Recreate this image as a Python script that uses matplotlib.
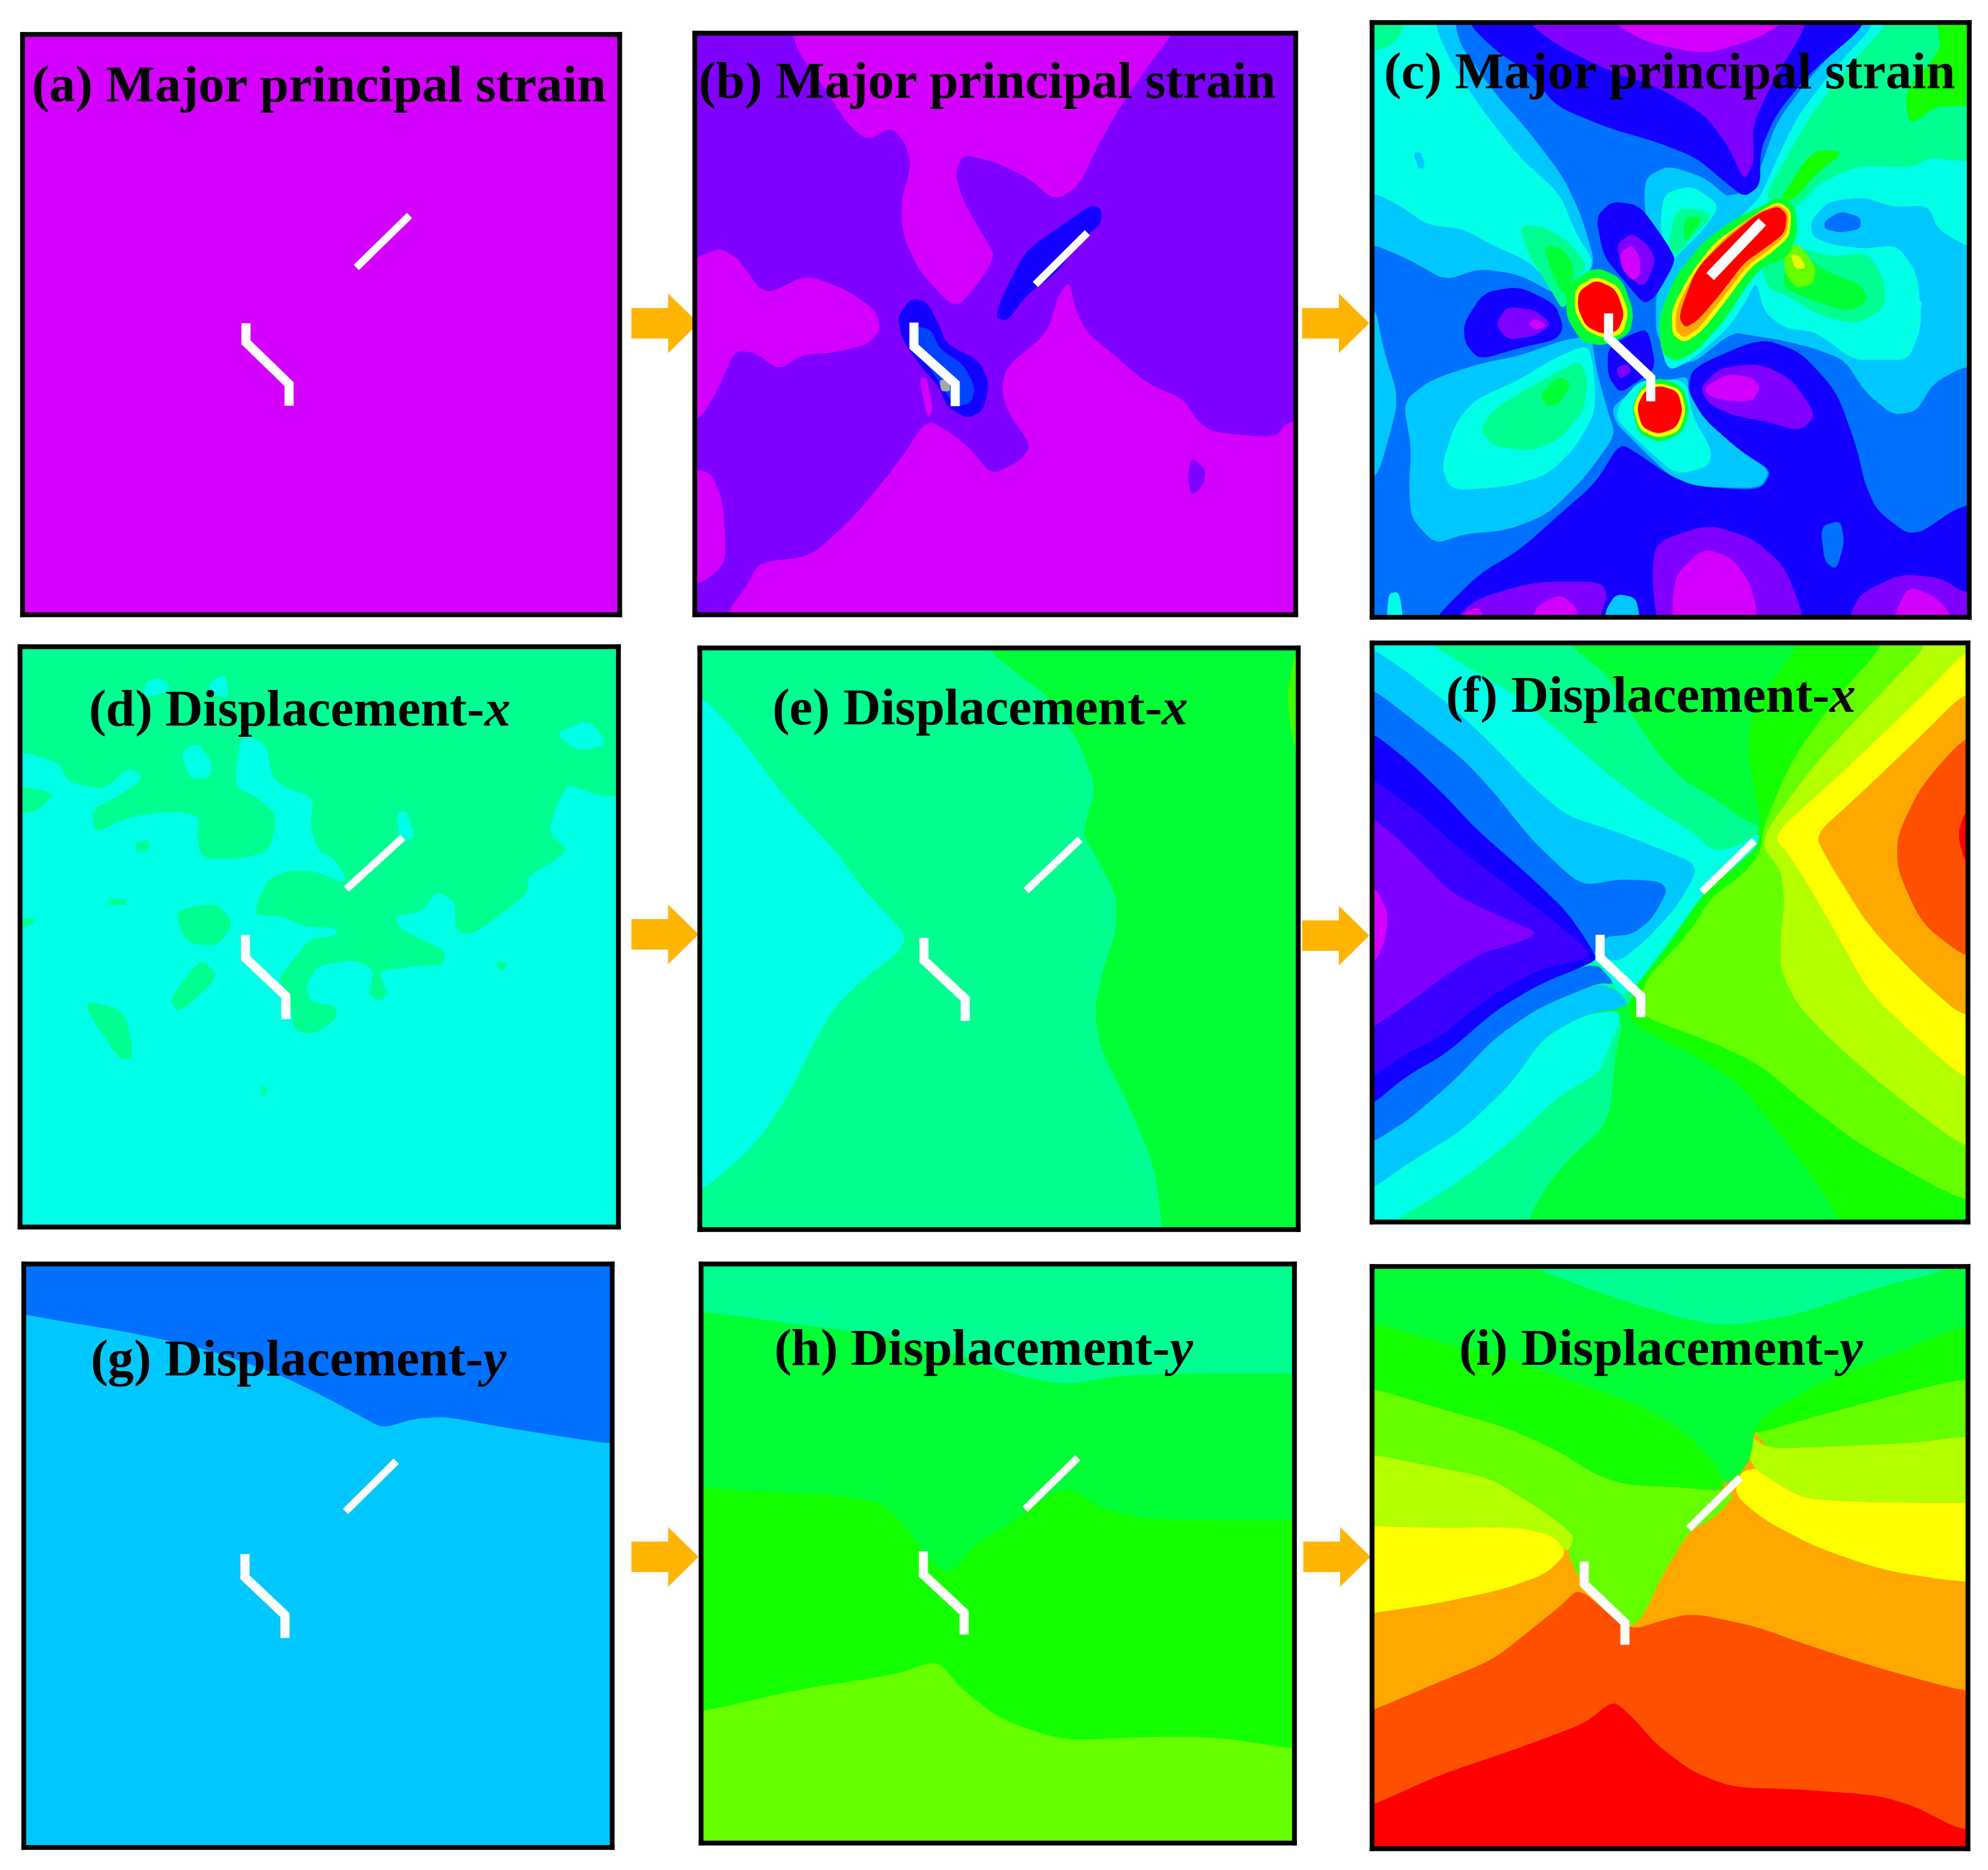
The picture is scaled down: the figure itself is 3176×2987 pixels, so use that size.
import numpy as np
import matplotlib
matplotlib.use("Agg")
import matplotlib.pyplot as plt

plt.rcParams["font.family"] = ["Liberation Serif", "DejaVu Serif"]
plt.rcParams["mathtext.fontset"] = "custom"
plt.rcParams["mathtext.bfit"] = "Liberation Serif:italic:bold"

mag = "#D400FF"
pur = "#8000FF"
ind = "#3C00FF"
blu = "#1400FF"
azu = "#0070FF"
sky = "#00C8FF"
cya = "#00FFE6"
spr = "#00FF90"
gr3 = "#00FF34"
gr1 = "#14FF00"
lim = "#66FF00"
ygr = "#B4FF00"
yel = "#FFFF00"
org = "#FFA800"
rog = "#FF5000"
red = "#FF0000"

# panel frames, read in the 1568 wide picture: left, right, top, bottom
frame_a = (18, 489, 27, 485)
frame_b = (548, 1022, 26, 485)
frame_c = (1082, 1553, 18, 487)
frame_d = (16, 488, 510, 968)
frame_e = (552, 1024, 511, 970)
frame_f = (1082, 1552, 507, 964)
frame_g = (19, 483, 997, 1457)
frame_h = (553, 1021, 997, 1454)
frame_i = (1082, 1552, 999, 1458)

# same frames in the units the contours below were read in
lims_a = (18, 489, 27, 485)
lims_b = (50, 1550, 38, 1535)
lims_c = (32, 1520, 30, 1530)
lims_d = (52, 1535, 35, 1555)
lims_e = (45, 1540, 40, 1545)
lims_f = (35, 1515, 28, 1540)
lims_g = (45, 1515, 30, 1538)
lims_h = (48, 1535, 32, 1530)
lims_i = (35, 1530, 35, 1538)

labels = ["(a) Major principal strain", "(b) Major principal strain", "(c) Major principal strain",
          "(d) Displacement-$\\mathbfit{x}$", "(e) Displacement-$\\mathbfit{x}$", "(f) Displacement-$\\mathbfit{x}$",
          "(g) Displacement-$\\mathbfit{y}$", "(h) Displacement-$\\mathbfit{y}$", "(i) Displacement-$\\mathbfit{y}$"]
label_x = [25, 60, 62, 220, 225, 218, 210, 230, 252]
label_y = [80, 205, 195, 242, 238, 208, 318, 292, 288]

# contour regions, painted in order
layers_a = []

layers_b = [
    (mag, [(290,-100),(290,30),(310,90),(380,190),(430,270),(480,315),(540,280),(575,320),(590,380),(565,470),(570,560),(610,650),(700,750),(760,680),(800,610),(770,560),(720,470),(700,400),(720,350),(800,370),(880,410),(950,470),(1010,430),(1050,340),(1110,230),(1190,110),(1250,30),(1250,-100)]),
    (mag, [(50,620),(110,590),(160,620),(210,695),(240,705),(330,660),(430,700),(500,750),(515,800),(480,840),(400,860),(320,865),(260,905),(200,860),(150,855),(110,950),(60,1040),(-100,1040),(-100,620)]),
    (mag, [(985,675),(1000,750),(1030,810),(1100,870),(1180,940),(1270,980),(1300,1030),(1340,1065),(1500,1080),(1530,1035),(1700,1030),(1700,1700),(130,1700),(130,1530),(180,1460),(210,1400),(340,1385),(450,1280),(560,1140),(630,1030),(700,1075),(740,1110),(790,1175),(860,1140),(890,1100),(830,1010),(815,950),(830,895),(930,810),(955,720)]),
    (mag, [(50,1160),(90,1170),(120,1240),(130,1400),(60,1460),(-100,1480),(-100,1160)]),
    (mag, [(610,925),(630,925),(645,1010),(630,1030)]),
    (pur, [(1290,1130),(1325,1160),(1320,1200),(1290,1230),(1280,1180)]),
    (blu, [(1040,480),(1065,490),(1065,530),(1000,580),(960,650),(880,710),(830,780),(800,770),(820,710),(870,610),(900,580),(970,530)]),
    (blu, [(590,720),(630,730),(660,790),(680,840),(760,880),(785,940),(770,1010),(730,1030),(680,1000),(660,950),(610,890),(570,830),(555,770)]),
    ("#0044FF", [(590,790),(640,800),(660,850),(720,890),(750,950),(740,990),(700,1000),(650,920),(600,850)]),
    ("#A8A8A8", [(660,930),(685,930),(688,960),(665,960)]),
]

layers_c = [
    (sky, [(-100,-100),(240,-100),(240,70),(340,210),(420,300),(510,420),(555,520),(590,640),(540,700),(500,720),(400,665),(300,650),(215,680),(130,630),(40,590),(-100,570)]),
    (sky, [(-100,740),(40,740),(60,850),(100,980),(60,1130),(40,1180),(-100,1200)]),
    (sky, [(110,985),(180,930),(300,890),(400,870),(510,830),(580,820),(590,900),(620,1010),(640,1070),(560,1180),(470,1270),(370,1310),(260,1320),(190,1345),(130,1280),(125,1200),(130,1100)]),
    (sky, [(1250,-100),(1250,30),(1130,160),(1040,280),(1000,400),(960,460),(880,470),(800,600),(740,700),(740,830),(820,900),(930,810),(985,820),(1050,830),(1130,850),(1210,880),(1260,960),(1330,1020),(1390,1010),(1430,940),(1510,895),(1700,885),(1700,-100)]),
    (cya, [(-100,-100),(190,-100),(190,40),(230,130),(300,240),(400,370),(500,460),(540,560),(590,640),(510,720),(480,690),(420,630),(330,590),(260,550),(170,540),(100,490),(40,460),(-100,440)]),
    (spr, [(-100,-100),(130,-100),(110,60),(60,100),(-100,110)]),
    (sky, [(135,360),(155,355),(165,395),(150,400)]),
    (spr, [(400,540),(460,545),(520,580),(570,640),(540,680),(510,760),(470,690),(420,610)]),
    (gr3, [(460,590),(510,600),(540,650),(515,730),(480,660)]),
    (blu, [(270,-100),(270,30),(340,100),(430,160),(490,240),(620,295),(740,330),(840,370),(910,430),(960,470),(1000,440),(1000,350),(1040,260),(1120,160),(1270,30),(1270,-100)]),
    (pur, [(420,-100),(420,30),(500,90),(620,150),(740,190),(860,260),(920,340),(960,430),(985,380),(980,290),(1030,180),(1120,30),(1120,-100)]),
    (mag, [(630,-100),(630,30),(720,80),(860,110),(990,70),(1060,30),(1060,-100)]),
    (cya, [(1290,-100),(1290,30),(1180,150),(1090,270),(1030,400),(1000,470),(940,530),(870,600),(790,710),(745,820),(770,910),(830,880),(920,800),(960,740),(990,680),(1010,760),(1060,800),(1140,810),(1230,880),(1300,880),(1370,880),(1400,800),(1400,720),(1700,700),(1700,-100)]),
    (sky, [(1125,530),(1170,480),(1260,470),(1330,495),(1420,490),(1445,560),(1700,680),(1700,720),(1400,760),(1390,660),(1340,590),(1260,600),(1180,590),(1130,570)]),
    (azu, [(1160,530),(1200,505),(1250,520),(1250,550),(1200,560),(1160,550)]),
    (spr, [(1320,-100),(1320,30),(1220,140),(1120,270),(1060,380),(1010,470),(1060,500),(1100,490),(1140,440),(1240,390),(1380,395),(1420,370),(1510,380),(1700,380),(1700,-100)]),
    (gr1, [(1440,-100),(1440,30),(1450,100),(1360,200),(1370,290),(1440,240),(1520,240),(1700,250),(1700,-100)]),
    (gr1, [(1040,490),(1130,350),(1210,355),(1140,410),(1090,470)]),
    (spr, [(1040,600),(1110,600),(1180,620),(1270,610),(1310,680),(1310,750),(1240,790),(1150,770),(1070,720),(1020,700),(1000,640)]),
    (gr3, [(1060,650),(1110,620),(1170,660),(1250,690),(1270,730),(1220,760),(1130,730),(1060,700)]),
    (lim, [(1060,590),(1100,590),(1140,650),(1130,690),(1090,700),(1060,660)]),
    ("#E8FF00", [(1075,610),(1100,620),(1115,650),(1085,650)]),
    (sky, [(715,420),(770,390),(860,420),(920,470),(950,490),(880,560),(820,620),(760,700),(730,620),(710,480)]),
    (cya, [(760,460),(830,440),(900,490),(860,550),(800,610),(770,640),(750,540)]),
    (spr, [(790,500),(850,500),(880,520),(830,570),(790,620),(770,590)]),
    (gr3, [(810,520),(860,520),(810,590)]),
    (cya, [(205,1150),(240,1040),(290,980),(400,930),(480,880),(570,840),(585,900),(590,1010),(540,1100),(470,1170),(370,1200),(230,1210)]),
    (spr, [(300,1060),(340,1000),(460,930),(550,880),(570,930),(560,1010),(500,1080),(430,1110),(340,1100)]),
    (gr3, [(450,970),(500,920),(530,940),(500,990),(470,1000)]),
    (blu, [(1000,825),(1100,860),(1190,960),(1240,1100),(1260,1190),(1290,1260),(1380,1330),(1510,1240),(1700,1240),(1700,1700),(150,1700),(150,1600),(200,1520),(300,1420),(400,1360),(500,1270),(590,1190),(650,1090),(700,1120),(770,1170),(840,1200),(1000,1210),(1030,1160),(950,1110),(860,1030),(820,960),(830,900)]),
    (pur, [(850,950),(900,900),(1000,890),(1080,930),(1140,1020),(1100,1060),(1010,1035),(930,1020),(870,990)]),
    (mag, [(860,950),(920,915),(980,925),(1000,950),(980,985),(920,985),(870,970)]),
    (sky, [(640,1040),(690,1090),(770,1170),(840,1200),(1000,1205),(1025,1160),(950,1110),(860,1030),(820,960),(820,920),(740,940),(680,960),(630,1000)]),
    (cya, [(640,1030),(700,1090),(790,1170),(870,1150),(880,1110),(830,1020),(815,930),(700,930),(650,990)]),
    (gr3, [(680,1000),(705,945),(750,925),(805,945),(825,1010),(805,1065),(750,1090),(695,1065)]),
    (pur, [(740,1340),(870,1295),(980,1330),(1060,1400),(1110,1530),(1110,1700),(780,1700),(740,1530),(730,1420)]),
    (mag, [(790,1420),(860,1355),(930,1380),(985,1460),(1010,1700),(780,1700),(780,1500)]),
    (pur, [(240,1700),(240,1530),(300,1480),(440,1440),(600,1440),(620,1470),(600,1530),(600,1700)]),
    (mag, [(420,1700),(430,1510),(500,1470),(550,1510),(550,1700)]),
    (mag, [(240,1700),(250,1520),(310,1500),(320,1700)]),
    (sky, [(610,1700),(610,1520),(640,1470),(690,1480),(700,1530),(700,1700)]),
    (pur, [(1220,1700),(1220,1530),(1250,1470),(1350,1420),(1450,1430),(1510,1470),(1700,1470),(1700,1700)]),
    (mag, [(1330,1700),(1330,1530),(1370,1450),(1440,1480),(1480,1530),(1480,1700)]),
    (azu, [(1150,1300),(1200,1285),(1210,1340),(1190,1410),(1160,1390)]),
    (cya, [(70,1700),(70,1470),(100,1465),(110,1530),(110,1700)]),
    (blu, [(590,520),(630,480),(700,490),(770,590),(790,630),(740,720),(710,740),(660,680),(610,620)]),
    (pur, [(640,590),(680,560),(720,590),(740,630),(710,700),(660,660)]),
    (mag, [(650,610),(680,590),(700,620),(700,670),(680,680),(655,650)]),
    (blu, [(620,850),(670,820),(720,800),(740,900),(700,930),(650,965),(620,920)]),
    (pur, [(640,900),(670,890),(680,910),(650,930)]),
    (blu, [(260,790),(310,710),(400,695),(490,740),(510,800),(490,830),(400,850),(300,880),(265,840)]),
    (pur, [(340,790),(370,745),(440,755),(480,790),(440,820),(370,830)]),
    (mag, [(420,790),(440,775),(470,795),(440,805)]),
    (gr3, [(1040,470),(1085,485),(1095,560),(1065,625),(1005,645),(965,695),(915,775),(845,855),(790,885),(755,865),(745,780),(785,675),(855,585),(935,525),(1000,495)]),
    (yel, [(1045,480),(1078,505),(1073,570),(1025,612),(975,648),(915,730),(855,808),(810,838),(780,815),(780,750),(825,665),(885,585),(955,535),(1000,505)]),
    (org, [(1045,487),(1072,510),(1066,565),(1018,606),(968,642),(908,722),(848,800),(810,826),(787,805),(792,745),(842,650),(912,570),(990,510)]),
    (red, [(1045,492),(1067,515),(1060,562),(1010,600),(960,635),(900,715),(845,780),(812,800),(796,770),(840,650),(915,575),(995,510)]),
    (gr3, [(520,690),(590,645),(655,675),(685,760),(675,815),(610,845),(555,835),(515,770)]),
    (yel, [(538,700),(590,668),(648,695),(672,760),(658,815),(610,826),(565,806),(538,760)]),
    (red, [(547,708),(590,678),(640,702),(662,765),(645,808),(605,815),(565,795),(545,750)]),
    (yel, [(682,1000),(705,952),(750,938),(802,955),(815,1010),(797,1062),(745,1078),(700,1058)]),
    (red, [(692,1000),(712,958),(750,945),(795,960),(807,1010),(790,1052),(745,1068),(705,1050)]),
]

layers_d = [
    (spr, [(-100,-100),(1700,-100),(1700,435),(1530,430),(1470,420),(1410,395),(1385,440),(1360,525),(1410,565),(1370,600),(1310,635),(1310,680),(1250,730),(1170,790),(1130,780),(1130,700),(1080,675),(1050,730),(980,740),(990,770),(1060,810),(1105,830),(1100,870),(1040,870),(970,880),(940,890),(965,945),(940,965),(915,945),(930,880),(880,855),(790,870),(760,920),(770,965),(835,975),(835,1010),(780,1050),(730,1040),(720,960),(690,905),(740,840),(770,800),(840,790),(830,770),(760,770),(700,740),(635,740),(640,700),(670,640),(720,620),(790,625),(850,655),(860,640),(830,590),(790,570),(770,500),(780,430),(700,400),(675,370),(660,290),(600,260),(580,400),(640,430),(690,480),(670,570),(600,590),(500,590),(490,530),(495,480),(440,465),(320,480),(235,525),(230,460),(290,430),(360,380),(320,350),(260,410),(170,390),(150,340),(60,310),(-100,310)]),
    (spr, [(-100,400),(60,400),(140,420),(90,470),(-100,490)]),
    (cya, [(360,130),(400,115),(430,150),(360,170)]),
    (cya, [(520,130),(560,105),(570,170),(520,160)]),
    (cya, [(450,310),(490,285),(530,340),(520,380),(470,380)]),
    (cya, [(1375,265),(1460,225),(1510,290),(1440,310)]),
    (cya, [(985,470),(1010,465),(1030,540),(990,540)]),
    (spr, [(338,550),(372,540),(372,570),(340,572)]),
    (spr, [(435,725),(540,705),(580,760),(540,820),(460,810)]),
    (spr, [(420,960),(500,850),(545,900),(445,995)]),
    (spr, [(200,960),(310,985),(335,1110),(300,1120)]),
    (spr, [(-100,745),(60,745),(95,750),(60,775),(-100,775)]),
    (spr, [(270,695),(315,695),(315,712),(270,712)]),
    (spr, [(1228,860),(1262,862),(1245,888)]),
    (spr, [(648,1185),(668,1190),(655,1220)]),
]

layers_e = [
    (cya, [(-100,165),(50,165),(130,250),(260,430),(380,560),(450,660),(540,760),(560,790),(540,830),(450,900),(380,970),(320,1080),(270,1190),(180,1330),(50,1445),(-100,1500)]),
    (gr3, [(760,-100),(760,40),(830,100),(920,170),(990,280),(1035,400),(1000,520),(1040,590),(1085,680),(1085,770),(1050,880),(1030,980),(1050,1090),(1120,1230),(1180,1380),(1200,1530),(1200,1700),(1700,1700),(1700,-100)]),
    ("#40FF00", [(1560,30),(1530,60),(1510,170),(1530,300),(1560,320)]),
]

layers_f = [
    (gr1, [(1100,-100),(1100,30),(1000,170),(965,280),(985,420),(1005,510),(950,580),(860,680),(770,820),(690,925),(670,985),(690,1030),(830,1100),(950,1180),(1100,1380),(1200,1530),(1200,1700),(1700,1700),(1700,-100)]),
    (lim, [(1310,-100),(1310,30),(1190,170),(1080,330),(1010,500),(1000,575),(960,630),(880,690),(820,790),(720,900),(700,960),(710,1005),(880,1070),(1000,1130),(1100,1220),(1250,1340),(1510,1490),(1700,1500),(1700,-100)]),
    (ygr, [(1420,-100),(1420,30),(1290,170),(1130,350),(1020,510),(1005,560),(1050,620),(1060,700),(1050,800),(1050,880),(1090,970),(1170,1060),(1300,1180),(1510,1350),(1700,1400),(1700,-100)]),
    (yel, [(1700,-100),(1510,50),(1400,170),(1200,370),(1030,530),(1070,580),(1130,680),(1190,790),(1270,940),(1380,1050),(1510,1170),(1700,1200)]),
    (org, [(1700,100),(1510,155),(1400,270),(1240,430),(1135,530),(1170,600),(1270,770),(1400,910),(1510,1010),(1700,1000)]),
    (rog, [(1700,220),(1510,270),(1400,400),(1340,530),(1340,620),(1400,760),(1510,850),(1700,900)]),
    (red, [(1700,400),(1510,460),(1490,530),(1510,610),(1700,680)]),
    (spr, [(-100,1700),(420,1700),(420,1530),(500,1400),(625,1280),(640,1100),(665,990),(-100,1000)]),
    (spr, [(-100,-100),(500,-100),(520,30),(620,110),(690,230),(740,310),(800,380),(880,430),(960,490),(1005,510),(950,580),(860,680),(770,820),(690,925),(670,985),(-100,1100)]),
    (cya, [(-100,-100),(180,-100),(180,30),(270,90),(400,170),(490,250),(620,370),(720,450),(830,520),(880,570),(930,565),(1000,520),(990,565),(860,680),(770,810),(690,925),(650,950),(600,850),(-100,700)]),
    (cya, [(-100,1300),(40,1450),(120,1390),(260,1300),(380,1180),(460,1060),(560,1000),(660,985),(620,1100),(600,1150),(500,1210),(370,1340),(230,1450),(100,1530),(-100,1700)]),
    (sky, [(-100,0),(40,45),(130,110),(240,200),(340,300),(430,400),(520,480),(640,520),(760,570),(830,600),(840,630),(790,720),(720,800),(650,860),(600,850),(-100,800)]),
    (sky, [(-100,1300),(40,1330),(130,1270),(240,1170),(340,1060),(450,980),(600,915),(650,940),(670,965),(660,980),(560,1000),(460,1060),(380,1180),(260,1300),(120,1390),(40,1450),(-100,1520)]),
    (azu, [(-100,100),(40,150),(150,240),(260,330),(340,420),(430,540),(530,640),(570,660),(650,645),(750,650),(770,675),(730,750),(680,790),(610,795),(590,850),(-100,800)]),
    (azu, [(-100,1200),(40,1230),(120,1160),(220,1100),(340,990),(450,920),(590,860),(640,920),(600,915),(450,980),(340,1060),(240,1170),(130,1270),(40,1330),(-100,1400)]),
    (blu, [(-100,200),(40,265),(130,340),(220,430),(290,510),(430,640),(520,730),(590,840),(590,860),(450,920),(340,990),(220,1100),(120,1160),(40,1230),(-100,1300)]),
    (ind, [(-100,320),(40,385),(150,470),(280,590),(420,700),(530,790),(585,850),(450,880),(330,950),(200,1060),(120,1100),(40,1160),(-100,1200)]),
    (pur, [(-100,430),(40,485),(130,570),(230,680),(360,745),(450,785),(400,810),(300,840),(200,910),(110,980),(40,1030),(-100,1100)]),
    (mag, [(-100,660),(40,660),(75,730),(70,800),(40,870),(-100,870)]),
]

layers_g = [
    (azu, [(-100,-100),(1700,-100),(1700,500),(1510,495),(1380,475),(1230,450),(1100,425),(1020,430),(940,455),(880,420),(780,365),(680,315),(500,250),(300,205),(120,175),(45,160),(-100,140)]),
]

layers_h = [
    (lim, [(-100,1200),(50,1190),(300,1130),(530,1095),(640,1055),(700,1130),(800,1210),(960,1265),(1150,1255),(1340,1255),(1530,1285),(1700,1300),(1700,1700),(-100,1700)]),
    (gr3, [(-100,-100),(1700,-100),(1700,695),(1530,695),(1300,695),(1150,690),(1040,660),(975,610),(900,640),(830,700),(730,760),(680,830),(640,820),(600,770),(560,710),(500,650),(400,630),(200,620),(50,610),(-100,610)]),
    (spr, [(-100,-100),(1700,-100),(1700,315),(1530,315),(1300,315),(1100,320),(960,345),(840,320),(700,270),(500,215),(300,190),(60,155),(-100,150)]),
]

layers_i = [
    (rog, [(-100,-100),(1700,-100),(1700,1510),(1510,1490),(1400,1430),(1300,1400),(1100,1385),(940,1380),(840,1340),(750,1270),(690,1200),(640,1155),(570,1215),(400,1280),(200,1350),(40,1425),(-100,1470)]),
    (org, [(-100,-100),(1700,-100),(1700,1150),(1510,1130),(1300,1070),(1120,1010),(1000,965),(840,930),(760,950),(700,970),(660,960),(555,865),(510,910),(450,960),(340,1050),(200,1110),(40,1180),(-100,1230)]),
    (yel, [(-100,705),(40,705),(200,710),(400,708),(490,730),(525,775),(470,830),(360,870),(200,905),(40,930),(-100,950)]),
    (yel, [(1700,850),(1510,850),(1320,820),(1150,760),(1020,690),(945,625),(960,565),(1005,555),(1050,595),(1120,635),(1300,645),(1700,645)]),
    (ygr, [(-100,520),(40,520),(180,550),(330,580),(440,650),(510,700),(545,735),(525,775),(490,730),(400,708),(200,710),(40,705),(-100,705)]),
    (ygr, [(1700,470),(1510,475),(1400,490),(1190,500),(1030,505),(980,470),(975,520),(1000,560),(1050,595),(1120,635),(1300,645),(1700,645)]),
    (lim, [(-100,350),(40,350),(200,400),(370,450),(500,510),(600,575),(680,600),(800,605),(910,615),(945,625),(900,680),(830,720),(760,840),(720,930),(690,965),(660,950),(560,850),(525,775),(545,735),(510,700),(440,650),(330,580),(180,550),(40,520),(-100,520)]),
    (lim, [(1700,320),(1510,325),(1300,380),(1120,430),(990,460),(1010,480),(1030,505),(1190,500),(1400,490),(1510,475),(1700,470)]),
    (gr1, [(-100,180),(40,180),(200,230),(370,270),(560,340),(720,400),(830,470),(900,550),(920,600),(910,615),(800,605),(680,600),(600,575),(500,510),(370,450),(200,400),(40,350),(-100,350)]),
    (gr1, [(1700,180),(1510,190),(1350,260),(1150,340),(990,430),(990,470),(1120,430),(1300,380),(1510,325),(1700,320)]),
    (gr3, [(-100,-100),(1700,-100),(1700,180),(1510,190),(1350,260),(1150,340),(1000,430),(985,530),(960,570),(920,600),(900,550),(830,470),(720,400),(560,340),(370,270),(200,230),(40,180),(-100,180)]),
    (spr, [(430,-100),(430,35),(600,100),(780,160),(920,190),(1100,160),(1300,90),(1500,40),(1500,-100)]),
]

backgrounds = [mag, pur, azu, cya, spr, gr3, sky, gr1, red]
all_layers = [layers_a, layers_b, layers_c, layers_d, layers_e, layers_f, layers_g, layers_h, layers_i]
all_frames = [frame_a, frame_b, frame_c, frame_d, frame_e, frame_f, frame_g, frame_h, frame_i]
all_lims = [lims_a, lims_b, lims_c, lims_d, lims_e, lims_f, lims_g, lims_h, lims_i]

# crack traces per panel: straight crack, kinked crack
crack_straight = [[(323,170),(281,211)], [(1030,552),(900,685)], [(1005,532),(875,670)],
                  [(1000,535),(860,670)], [(995,535),(860,668)], [(985,545),(855,678)],
                  [(975,540),(848,670)], [(992,533),(860,666)], [(960,580),(830,712)]]
crack_kinked = [[(194,255),(194,270),(228,303),(228,320)], [(597,783),(597,845),(700,940),(700,998)],
                [(622,763),(622,825),(727,925),(727,985)], [(610,790),(610,850),(710,950),(710,1010)],
                [(605,790),(605,848),(708,948),(708,1005)], [(602,790),(602,850),(703,950),(703,1005)],
                [(597,780),(597,840),(697,938),(697,997)], [(605,775),(605,835),(707,933),(707,990)],
                [(568,797),(568,855),(670,955),(670,1012)]]
straight_width = [8.5, 8.5, 12, 8.5, 8.5, 8.5, 8.5, 8.5, 8.5]

arrow_x = [498, 1027, 498, 1027, 498, 1028]
arrow_y = [255, 255, 737, 738, 1228, 1228]


def smooth(points, rounds=4, cut=0.18):
    # corner cutting so the traced contours look like contours
    pts = np.array(points, dtype=float)
    for _ in range(rounds):
        nxt = np.roll(pts, -1, axis=0)
        pts = np.column_stack([(1 - cut) * pts + cut * nxt, cut * pts + (1 - cut) * nxt]).reshape(-1, 2)
    return pts


W, H = 3176, 2987
fig = plt.figure(figsize=(W / 100, H / 100), dpi=100)

over = fig.add_axes([0, 0, 1, 1])
over.set_xlim(0, 1568)
over.set_ylim(1475, 0)
over.axis("off")
for ax0, ay0 in zip(arrow_x, arrow_y):
    over.arrow(ax0, ay0, 53, 0, width=24, head_width=47, head_length=24,
               length_includes_head=True, color="#FFB400", lw=0)

for i in range(9):
    l, r, t, b = all_frames[i]
    ax = fig.add_axes([l / 1568, 1 - b / 1475, (r - l) / 1568, (b - t) / 1475])
    ax.set_facecolor(backgrounds[i])
    x0, x1, y0, y1 = all_lims[i]
    ax.set_xlim(x0, x1)
    ax.set_ylim(y1, y0)
    ax.set_xticks([])
    ax.set_yticks([])
    for s in ax.spines.values():
        s.set_linewidth(5.5)
        s.set_color("black")

    for color, pts in all_layers[i]:
        p = smooth(pts)
        ax.fill(p[:, 0], p[:, 1], color=color, lw=0)

    xs, ys = zip(*crack_straight[i])
    ax.plot(xs, ys, color="white", lw=straight_width[i], solid_capstyle="butt")
    xs, ys = zip(*crack_kinked[i])
    ax.plot(xs, ys, color="white", lw=10.5, solid_capstyle="butt", solid_joinstyle="miter")

    ax.text(label_x[i], label_y[i], labels[i], fontsize=60, fontweight="bold",
            color="black", va="baseline", ha="left")

fig.savefig("out.png", dpi=100)
